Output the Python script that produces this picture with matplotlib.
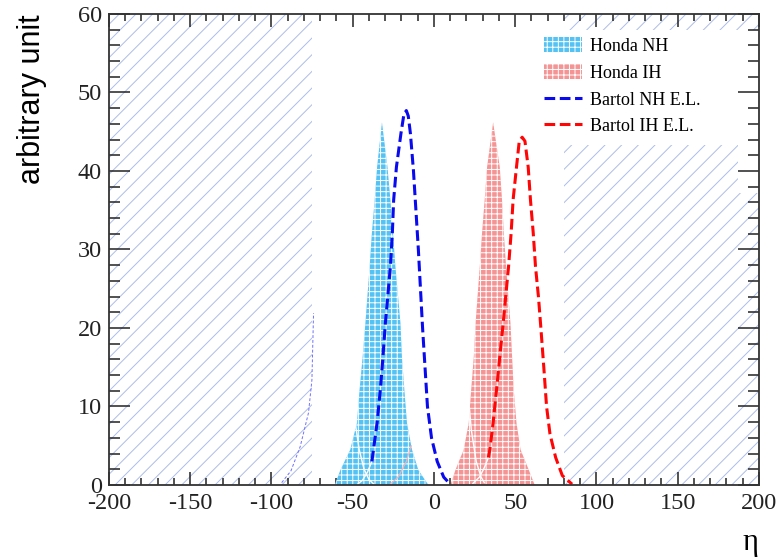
import matplotlib
matplotlib.use("Agg")
import matplotlib.pyplot as plt
from matplotlib.patches import Patch
from matplotlib.lines import Line2D
from matplotlib.ticker import MultipleLocator

# values
honda_nh_x = [-61, -57.6, -51.5, -47.4, -45.8, -43.9, -42.2, -39.6, -38.2, -36.5, -35, -32,
              -28.6, -26.8, -25.2, -23.7, -20.6, -19.7, -18.2, -16.6, -13.5, -9.6, -3.4]
honda_nh_y = [0, 1.9, 4.5, 7.9, 12.1, 16.3, 20.6, 27.8, 32.1, 36.3, 40.5, 46.2,
              40.5, 36.3, 32.1, 27.8, 20.6, 16.3, 12.1, 7.9, 4.5, 1.9, 0]

honda_ih_x = [10.2, 13.2, 18.3, 21.4, 22.9, 24.5, 25.6, 28.2, 29.6, 31.2, 32.7, 36.4,
              40.5, 41.9, 43.0, 44.4, 47.1, 48.1, 49.1, 50.8, 53.3, 58.4, 62]
honda_ih_y = [0, 1.9, 4.5, 7.9, 12.1, 16.3, 20.6, 27.8, 32.1, 36.3, 40.5, 46.2,
              40.5, 36.3, 32.1, 27.8, 20.6, 16.3, 12.1, 7.9, 4.5, 1.9, 0]

bartol_nh_x = [-38.2, -35, -33, -31.4, -29.9, -26.8, -25.6, -24.8, -23.1, -20.3, -18.5, -17,
               -15.8, -14.5, -12.6, -11.1, -9.6, -8.3, -7.0, -5.5, -4.0, -1.5, 2, 6, 10]
bartol_nh_y = [3.0, 7.9, 12.1, 16.3, 20.6, 27.8, 32.1, 36.3, 40.5, 44.8, 47.2, 47.7,
               47.0, 44.8, 40, 35, 30, 25, 20, 15, 10, 6, 3, 1, 0.1]

bartol_ih_x = [33.5, 34.4, 36.4, 38.5, 40.5, 42.6, 45.9, 47.5, 48.7, 50.8, 52.5, 54.3,
               56, 58.0, 59.4, 61.1, 62.5, 64.3, 65.8, 67.6, 69.3, 71.4, 74.9, 79.0, 85]
bartol_ih_y = [3.5, 4.5, 7.9, 12.1, 16.3, 20.6, 27.8, 32.1, 36.3, 40.5, 43.8, 44.3,
               43.8, 40.5, 36.3, 32.1, 27.8, 24, 20, 15, 10, 6.5, 3.5, 1.2, 0.1]

# faint sub-curves near the base
nh_fall_x = [-48.5, -46, -43, -40, -37]
nh_fall_y = [8, 4.5, 2, 0.7, 0.1]
nh_rise_x = [-47, -44, -41, -38.2]
nh_rise_y = [0.1, 0.6, 1.6, 3.0]
nh_red_x = [-27, -22, -17, -14]
nh_red_y = [0.1, 1, 3, 5]
ih_fall_x = [20.5, 23, 26, 29, 31]
ih_fall_y = [13, 7, 3, 1, 0.3]
ih_rise_x = [24, 28, 31, 33.5]
ih_rise_y = [0.2, 1, 2.2, 3.5]
left_tail_x = [-93.7, -88, -82.3, -77.2, -75.1, -74.1]
left_tail_y = [0.3, 1.8, 4.9, 9.2, 13.4, 21.9]

# excluded (hatched) regions: (x0, x1, y0, y1)
excluded = [(-200, -75, 0, 60), (80, 187, 0, 43.3), (187, 200, 0, 37.2), (80, 200, 58, 60)]

labels = ["Honda NH", "Honda IH", "Bartol NH E.L.", "Bartol IH E.L."]

CYAN = "#55c2f4"
PINK = "#f59494"
HATCH = "#aebde8"

plt.rcParams["hatch.linewidth"] = 0.7
plt.rcParams["axes.unicode_minus"] = False
serif = ["Liberation Serif", "DejaVu Serif"]

fig = plt.figure(figsize=(7.8, 5.57), dpi=100)
ax = fig.add_axes([0.1397, 0.1293, 0.8333, 0.8456])

for x0, x1, y0, y1 in excluded:
    ax.fill_between([x0, x1], [y0, y0], [y1, y1], facecolor="none",
                    edgecolor=HATCH, hatch="//", linewidth=0, zorder=1)

ax.fill_between(honda_nh_x, 0, honda_nh_y, facecolor=CYAN, edgecolor="white",
                hatch="+++", linewidth=0, zorder=2)
ax.fill_between(honda_ih_x, 0, honda_ih_y, facecolor=PINK, edgecolor="white",
                hatch="+++", linewidth=0, zorder=2)

ax.plot(nh_fall_x, nh_fall_y, color="white", lw=1, zorder=3)
ax.plot(nh_rise_x, nh_rise_y, color="white", lw=1, zorder=3)
ax.plot(nh_red_x, nh_red_y, color="#ffb0b0", lw=0.8, zorder=3)
ax.plot(ih_fall_x, ih_fall_y, color="white", lw=1, zorder=3)
ax.plot(ih_rise_x, ih_rise_y, color="white", lw=1, zorder=3)
ax.plot(left_tail_x, left_tail_y, color="#7070ff", lw=0.7, ls=(0, (3, 2)), zorder=3)

dash = (0, (3.5, 1.5))
ax.plot(bartol_nh_x, bartol_nh_y, color="#0a0aee", lw=2.2, ls=dash, zorder=4)
ax.plot(bartol_ih_x, bartol_ih_y, color="#ff0505", lw=2.2, ls=dash, zorder=4)

ax.set_xlim(-200, 200)
ax.set_ylim(0, 60)
ax.xaxis.set_major_locator(MultipleLocator(50))
ax.xaxis.set_minor_locator(MultipleLocator(10))
ax.yaxis.set_major_locator(MultipleLocator(10))
ax.yaxis.set_minor_locator(MultipleLocator(2))

ax.tick_params(axis="both", which="both", direction="in", top=True, right=True,
               colors="#222222", width=1.1, zorder=5)
ax.tick_params(axis="x", which="major", length=9.5, pad=6)
ax.tick_params(axis="x", which="minor", length=5)
ax.tick_params(axis="y", which="major", length=15, pad=5)
ax.tick_params(axis="y", which="minor", length=8)
for lab in ax.get_xticklabels() + ax.get_yticklabels():
    lab.set_family(serif)
    lab.set_fontsize(17.5)
    lab.set_color("#222222")
for sp in ax.spines.values():
    sp.set_color("#333333")
    sp.set_linewidth(1.3)
    sp.set_zorder(6)

ax.set_ylabel("arbitrary unit", loc="top", fontsize=22, family=["Liberation Sans", "DejaVu Sans"],
              labelpad=22)
ax.set_xlabel("η", loc="right", fontsize=22, family=serif, labelpad=10)

handles = [
    Patch(facecolor=CYAN, edgecolor="white", hatch="+++", linewidth=0),
    Patch(facecolor=PINK, edgecolor="white", hatch="+++", linewidth=0),
    Line2D([], [], color="#0a0aee", lw=2.2, ls=dash),
    Line2D([], [], color="#ff0505", lw=2.2, ls=dash),
]
leg = ax.legend(handles, labels, loc="upper left", bbox_to_anchor=(0.645, 0.985),
                frameon=False, prop={"family": serif, "size": 13},
                handlelength=2.1, handleheight=0.9, labelspacing=0.5, handletextpad=0.45)
leg.set_zorder(7)

fig.savefig("out.png", dpi=100)
